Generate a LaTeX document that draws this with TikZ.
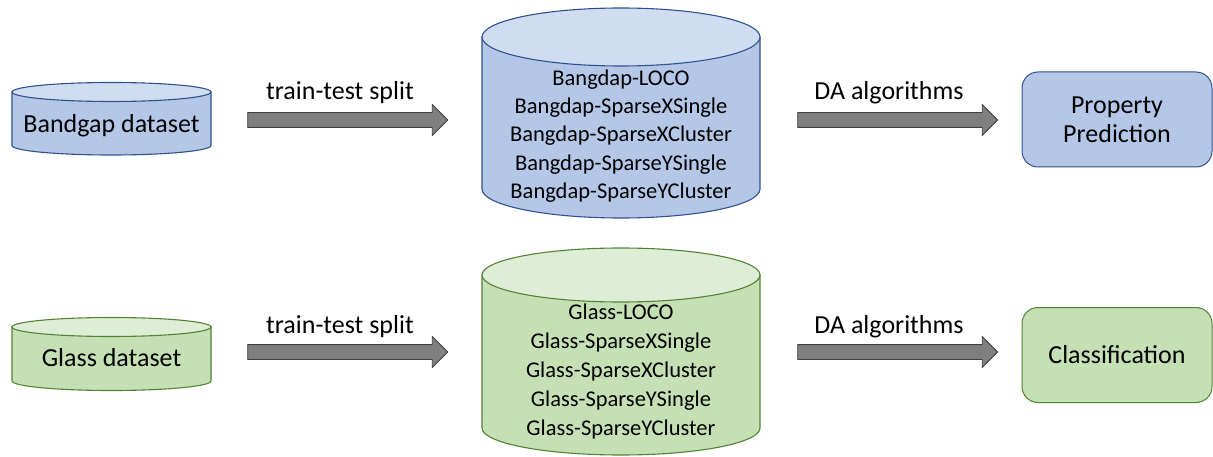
\documentclass[tikz,border=0pt]{standalone}
\usepackage{fontspec}
\setmainfont{Carlito}
\usetikzlibrary{shapes.arrows}
\definecolor{bfill}{HTML}{B4C7E7}
\definecolor{btop}{HTML}{D0DCF0}
\definecolor{bline}{HTML}{2F528F}
\definecolor{gfill}{HTML}{C5E0B4}
\definecolor{gtop}{HTML}{DEEDD5}
\definecolor{gline}{HTML}{548235}
\definecolor{afill}{HTML}{7F7F7F}
\definecolor{aline}{HTML}{404040}
\tikzset{
  bigtxt/.style={font=\fontsize{26}{30}\selectfont, inner sep=0pt},
  midtxt/.style={font=\fontsize{22.5}{28.3}\selectfont, align=center, inner sep=0pt},
  blockarrow/.style={single arrow, draw=aline, fill=afill, line width=0.8pt,
    inner xsep=0pt, inner ysep=7pt, single arrow head extend=8pt, minimum height=200pt,
    single arrow tip angle=90},
  resbox/.style={draw, rounded corners=16pt, line width=1pt, minimum width=190pt,
    minimum height=95pt, align=center, font=\fontsize{26}{31}\selectfont},
}
% cylinder: #1 cx, #2 left, #3 right, #4 top center y, #5 bottom center y, #6 ry, fill, top, line
\newcommand{\mycyl}[9]{%
  \filldraw[fill=#7, draw=#9, line width=1.1pt]
    (#2,#4) -- (#2,#5) arc[start angle=180, end angle=0, x radius={(#3-#2)/2}, y radius=#6]
    -- (#3,#4) -- cycle;
  \filldraw[fill=#8, draw=#9, line width=1.1pt] (#1,#4) ellipse[x radius={(#3-#2)/2}, y radius=#6];
}
\begin{document}
\begin{tikzpicture}[x=1pt,y=-1pt]
\useasboundingbox (0,0) rectangle (1213,457);
% left cylinders
\mycyl{111.5}{12}{211}{92}{145.5}{9.5}{bfill}{btop}{bline}
\mycyl{111.5}{12}{211}{327}{381}{9.5}{gfill}{gtop}{gline}
\node[bigtxt] (bd) at (111.5,126) {Bandgap dataset};
\node[bigtxt] (gd) at (111.5,358) {Glass dataset};
% middle cylinders
\mycyl{621}{482}{760}{37}{189}{29}{bfill}{btop}{bline}
\mycyl{621}{482}{760}{275}{428}{27}{gfill}{gtop}{gline}
\node[midtxt] (bs) at (621,136) {Bangdap-LOCO\\Bangdap-SparseXSingle\\Bangdap-SparseXCluster\\Bangdap-SparseYSingle\\Bangdap-SparseYCluster};
\node[midtxt, font=\fontsize{22.5}{29}\selectfont] (gs) at (621,371.5) {Glass-LOCO\\Glass-SparseXSingle\\Glass-SparseXCluster\\Glass-SparseYSingle\\Glass-SparseYCluster};
% result boxes
\node[resbox, draw=bline, fill=bfill] (pp) at (1117,119.5) {Property\\[-2pt]Prediction};
\node[resbox, draw=gline, fill=gfill] (cl) at (1117,355) {Classification};
% arrows
\node[blockarrow] (a1) at (344,120) {};
\node[blockarrow] (a2) at (344,352) {};
\node[blockarrow] (a3) at (894,120) {};
\node[blockarrow] (a4) at (894,352) {};
\node[bigtxt] (l1) at (340,93) {train-test split};
\node[bigtxt] (l2) at (340,327) {train-test split};
\node[bigtxt] (l3) at (889,93) {DA algorithms};
\node[bigtxt] (l4) at (889,327) {DA algorithms};
\end{tikzpicture}
\end{document}
